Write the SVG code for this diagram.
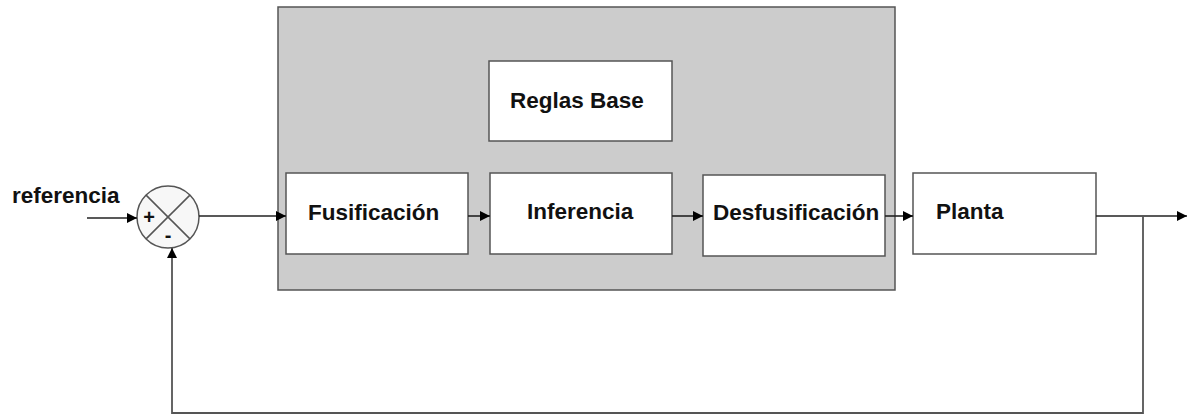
<svg xmlns="http://www.w3.org/2000/svg" width="1187" height="417" viewBox="0 0 1187 417">
<style>
.box{fill:#ffffff;stroke:#555555;stroke-width:1.5}
.lbl{font-family:"Liberation Sans",Arial,sans-serif;font-weight:bold;font-size:22.5px;fill:#111111}
.sgn{font-family:"Liberation Sans",Arial,sans-serif;font-weight:bold;font-size:20px;fill:#111111}
.wire{fill:none;stroke:#222222;stroke-width:1.6}
.fb{fill:none;stroke:#555555;stroke-width:1.8}
</style>
<defs>
<marker id="arr" viewBox="0 0 10 10" refX="10" refY="5" markerWidth="10" markerHeight="11" markerUnits="userSpaceOnUse" orient="auto">
<path d="M0,0 L10,5 L0,10 Z" fill="#000000"/>
</marker>
</defs>
<rect width="1187" height="417" fill="#ffffff"/>
<g id="controller">
<rect x="278" y="7" width="617" height="283" fill="#cccccc" stroke="#555555" stroke-width="1.5"/>
</g>
<g id="reglas">
<rect class="box" x="489" y="61" width="183" height="80"/>
<text class="lbl" x="510" y="108">Reglas Base</text>
</g>
<g id="fusificacion">
<rect class="box" x="286" y="173" width="182" height="81"/>
<text class="lbl" x="308" y="220">Fusificación</text>
</g>
<g id="inferencia">
<rect class="box" x="490" y="173" width="182" height="81"/>
<text class="lbl" x="527" y="219">Inferencia</text>
</g>
<g id="desfusificacion">
<rect class="box" x="703" y="175" width="182" height="81"/>
<text class="lbl" x="713" y="220">Desfusificación</text>
</g>
<g id="planta">
<rect class="box" x="913" y="173" width="183" height="81"/>
<text class="lbl" x="936" y="219">Planta</text>
</g>
<g id="sumador">
<circle cx="168" cy="217" r="31" fill="#f7f7f7" stroke="#555555" stroke-width="1.5"/>
<line x1="146.1" y1="195.1" x2="189.9" y2="238.9" stroke="#555555" stroke-width="1.5"/>
<line x1="189.9" y1="195.1" x2="146.1" y2="238.9" stroke="#555555" stroke-width="1.5"/>
<text class="sgn" x="149" y="224" text-anchor="middle">+</text>
<text class="sgn" x="168" y="242" text-anchor="middle">-</text>
</g>
<g id="referencia">
<text class="lbl" x="12" y="203">referencia</text>
</g>
<g id="connectors">
<line class="wire" x1="87" y1="218" x2="137" y2="218" marker-end="url(#arr)"/>
<line class="wire" x1="199" y1="216" x2="286" y2="216" marker-end="url(#arr)"/>
<line class="wire" x1="468" y1="216" x2="490" y2="216" marker-end="url(#arr)"/>
<line class="wire" x1="672" y1="216" x2="703" y2="216" marker-end="url(#arr)"/>
<line class="wire" x1="885" y1="216" x2="913" y2="216" marker-end="url(#arr)"/>
<line class="wire" x1="1096" y1="216" x2="1187" y2="216" marker-end="url(#arr)"/>
<polyline class="fb" points="1143,216 1143,413 172,413 172,248" marker-end="url(#arr)"/>
</g>
</svg>
